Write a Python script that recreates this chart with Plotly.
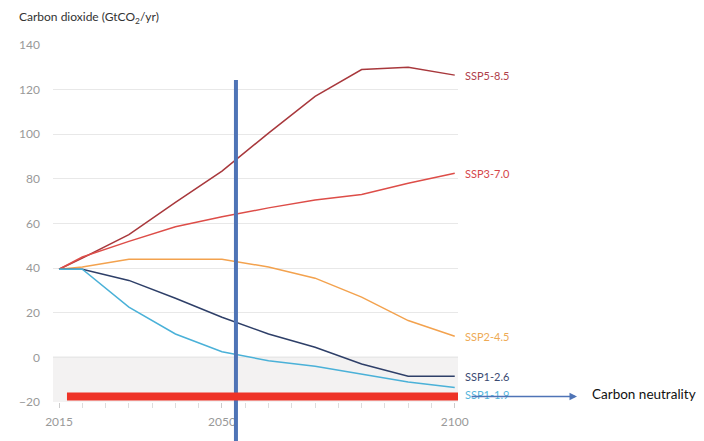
import plotly.graph_objects as go

years = [2015, 2020, 2030, 2040, 2050, 2060, 2070, 2080, 2090, 2100]
ssp585 = [39.5, 44.5, 55.0, 69.5, 83.5, 100.5, 117.0, 129.0, 130.0, 126.5]
ssp370 = [39.5, 45.0, 52.0, 58.5, 63.0, 67.0, 70.5, 73.0, 78.0, 82.5]
ssp245 = [39.5, 40.5, 44.0, 44.0, 44.0, 40.5, 35.5, 27.0, 16.5, 9.5]
ssp126 = [39.5, 39.5, 34.5, 26.5, 18.0, 10.5, 4.5, -3.0, -8.5, -8.5]
ssp119 = [39.5, 39.5, 22.5, 10.5, 2.5, -1.5, -4.0, -7.5, -11.0, -13.5]

series_names = ["SSP5-8.5", "SSP3-7.0", "SSP2-4.5", "SSP1-2.6", "SSP1-1.9"]
series_values = [ssp585, ssp370, ssp245, ssp126, ssp119]
line_colors = ["#a8383c", "#dd4d48", "#f3a24e", "#2e3f68", "#4ab1d8"]
label_colors = ["#b0404a", "#d5464a", "#eeaa55", "#3a4a72", "#55b6dc"]
label_shift = [0, 0, 0, 0, -7]

ytick_vals = [-20, 0, 20, 40, 60, 80, 100, 120, 140]
xtick_vals = [2015, 2050, 2100]

neutral_year = 2053
neutral_level = -17.5

# plot area geometry (figure is placed 8px from the window's top-left corner)
PW, PH = 405, 357

fig = go.Figure()

# shaded region below zero
fig.add_shape(type="rect", xref="x", yref="y", x0=2013.7, x1=2100.7, y0=-20, y1=0,
              fillcolor="#f3f2f2", line=dict(width=0), layer="below")
fig.add_shape(type="line", xref="x", yref="y", x0=2013.7, x1=2100.7, y0=0, y1=0,
              line=dict(color="#cfcfcf", width=1.2), layer="below")

for name, vals, col in zip(series_names, series_values, line_colors):
    fig.add_trace(go.Scatter(x=years, y=vals, mode="lines", name=name,
                             line=dict(color=col, width=1.5), showlegend=False,
                             hoverinfo="skip"))

for name, vals, col, sh in zip(series_names, series_values, label_colors, label_shift):
    fig.add_annotation(x=years[-1], y=vals[-1], xref="x", yref="y", text=name,
                       showarrow=False, xanchor="left", xshift=8, yshift=sh,
                       font=dict(family="Lato", size=11, color=col))

# vertical blue line
fig.add_shape(type="line", xref="x", yref="paper", x0=neutral_year, x1=neutral_year,
              y0=-0.2, y1=0.902, line=dict(color="#4f74b6", width=4))
# red horizontal bar
fig.add_shape(type="line", xref="x", yref="y", x0=2016.7, x1=2102.8,
              y0=neutral_level, y1=neutral_level, line=dict(color="#ee3327", width=8))
# arrow
fig.add_annotation(xref="paper", yref="y", x=(577 - 53) / PW, y=neutral_level,
                   axref="pixel", ayref="pixel", ax=-107, ay=0,
                   showarrow=True, arrowhead=2, arrowsize=1, arrowwidth=1.5,
                   arrowcolor="#4f74b6", text="")
fig.add_annotation(xref="paper", yref="y", x=(590 - 53) / PW, y=neutral_level,
                   text="Carbon neutrality", showarrow=False, xanchor="left",
                   yshift=2, font=dict(family="Lato", size=13.5, color="#111111"))

# title
fig.add_annotation(xref="paper", yref="paper", x=-36 / PW, y=1 + (45 - 17) / PH,
                   text="Carbon dioxide (GtCO<sub>2</sub>/yr)", showarrow=False,
                   xanchor="left", yanchor="middle",
                   font=dict(family="Lato", size=12, color="#333333"))

fig.update_layout(
    width=696, height=433,
    margin=dict(l=45, r=246, t=37, b=39),
    paper_bgcolor="white", plot_bgcolor="white",
    font=dict(family="Lato", color="#999999"),
    xaxis=dict(range=[2013.7, 2100.7], tickvals=xtick_vals, showgrid=False,
               zeroline=False, showline=False, ticks="outside", ticklen=5,
               tickcolor="#cccccc", tickfont=dict(size=12, color="#999999"),
               ticklabelstandoff=4,
               minor=dict(dtick=5, tick0=2015, ticks="outside", ticklen=5,
                          tickcolor="#dddddd", showgrid=False)),
    yaxis=dict(range=[-20, 140], tickvals=ytick_vals, showgrid=True,
               gridcolor="#e8e8e8", gridwidth=1, zeroline=False, showline=False,
               tickfont=dict(size=12, color="#999999"), ticklabelstandoff=12),
)

fig.write_html("out.html")
